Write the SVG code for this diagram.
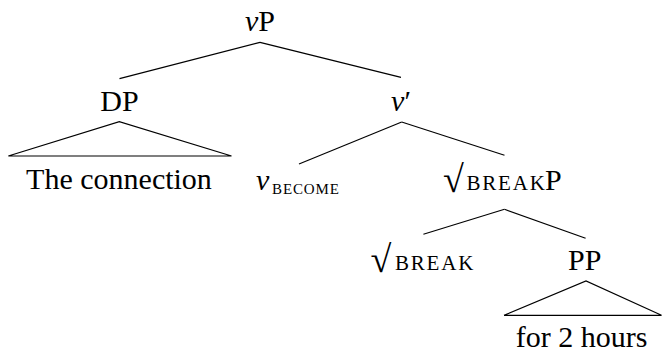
<svg xmlns="http://www.w3.org/2000/svg" width="662" height="352" viewBox="0 0 662 352">
<style>
text{font-family:'Liberation Serif','DejaVu Serif',serif;fill:#000;font-size:30px}
.it{font-style:italic}
.sc{font-size:21px;letter-spacing:1.8px}
.sm{font-size:15px;letter-spacing:0.9px}
.rad{font-size:38px}
#edges line,#edges polyline{stroke:#000;stroke-width:1.2;fill:none}
</style>
<rect width="662" height="352" fill="#fff"/>
<g id="edges">
<line x1="260" y1="42.3" x2="119.5" y2="78.7"/>
<line x1="260" y1="42.3" x2="401" y2="77.3"/>
<polyline points="8.3,156 119.3,121.7 231.5,156 8.3,156"/>
<line x1="401.7" y1="122" x2="299" y2="164"/>
<line x1="401.7" y1="122" x2="504.5" y2="155.3"/>
<line x1="504.5" y1="209.3" x2="423.4" y2="234.3"/>
<line x1="504.5" y1="209.3" x2="585.6" y2="238.3"/>
<polyline points="504,315.3 586,281 661.5,315.3 504,315.3"/>
</g>
<g id="vP"><text x="260" y="31" text-anchor="middle"><tspan class="it">v</tspan>P</text></g>
<g id="DP"><text x="119.5" y="111" text-anchor="middle">DP</text></g>
<g id="vbar"><text x="401" y="111" text-anchor="middle"><tspan class="it">v</tspan>′</text></g>
<g id="DP-text"><text x="119" y="188.5" text-anchor="middle">The connection</text></g>
<g id="vbecome"><text x="256" y="189.5"><tspan class="it">v</tspan><tspan class="sm" x="272" y="193.5">BECOME</tspan></text></g>
<g id="breakP"><text x="443" y="192"><tspan class="rad">√</tspan><tspan class="sc" x="466.5" y="190">BREAK</tspan><tspan x="545">P</tspan></text></g>
<g id="break"><text x="370.5" y="271.5"><tspan class="rad">√</tspan><tspan class="sc" x="395" y="269.5">BREAK</tspan></text></g>
<g id="PP"><text x="584.7" y="270" text-anchor="middle">PP</text></g>
<g id="PP-text"><text x="581.7" y="347" text-anchor="middle">for 2 hours</text></g>
</svg>
